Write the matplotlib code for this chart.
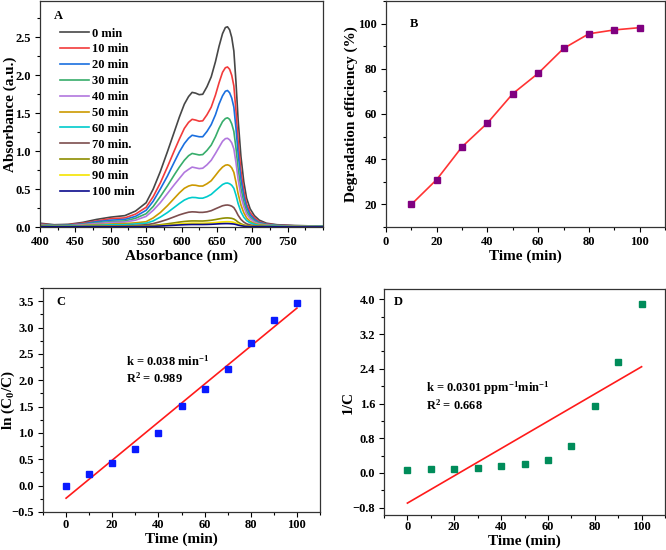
import matplotlib
matplotlib.use('Agg')
import matplotlib.pyplot as plt
from matplotlib.ticker import MultipleLocator
import numpy as np

plt.rcParams['font.family'] = 'serif'
plt.rcParams['font.serif'] = ['Liberation Serif', 'DejaVu Serif']
plt.rcParams['font.weight'] = 'bold'
plt.rcParams['axes.labelweight'] = 'bold'
plt.rcParams['mathtext.fontset'] = 'custom'
plt.rcParams['mathtext.rm'] = 'Liberation Serif:bold'
plt.rcParams['mathtext.default'] = 'rm'

# ---- panel A: UV-vis spectra ----
wl = [400, 420, 440, 460, 480, 500, 520, 535, 550, 560,
      570, 580, 590, 597, 604, 610, 615, 620, 625, 630,
      636, 642, 648, 653, 658, 662, 665, 668, 671, 674,
      677, 680, 684, 688, 692, 697, 703, 710, 720, 735,
      760, 800]
spec_labels = ['0 min', '10 min', '20 min', '30 min', '40 min', '50 min', '60 min', '70 min.',
               '80 min', '90 min', '100 min']
spec_colors = ['#474747', '#f23b3b', '#1a6fdf', '#37ad6b', '#b177de', '#cc9900', '#00cbcc',
               '#7d4e4e', '#8e8e00', '#f5e400', '#0a0a8c']
a0 = [0.05, 0.03, 0.035, 0.06, 0.10, 0.13, 0.15, 0.21, 0.32, 0.50,
      0.73, 0.99, 1.26, 1.45, 1.62, 1.72, 1.775, 1.765, 1.745, 1.75,
      1.85, 1.98, 2.18, 2.38, 2.55, 2.63, 2.64, 2.60, 2.50, 2.32,
      1.91, 1.42, 0.93, 0.60, 0.38, 0.24, 0.15, 0.09, 0.05, 0.03,
      0.02, 0.01]
a10 = [0.04, 0.025, 0.03, 0.05, 0.08, 0.11, 0.12, 0.17, 0.26, 0.40,
       0.58, 0.79, 1.01, 1.16, 1.30, 1.38, 1.42, 1.41, 1.395, 1.40,
       1.48, 1.58, 1.74, 1.90, 2.04, 2.10, 2.11, 2.08, 2.00, 1.86,
       1.53, 1.14, 0.74, 0.48, 0.30, 0.19, 0.12, 0.07, 0.04, 0.025,
       0.015, 0.01]
a20 = [0.035, 0.02, 0.025, 0.04, 0.07, 0.09, 0.10, 0.14, 0.22, 0.34,
       0.50, 0.67, 0.86, 0.99, 1.10, 1.17, 1.21, 1.20, 1.19, 1.19,
       1.26, 1.35, 1.48, 1.62, 1.73, 1.79, 1.80, 1.77, 1.70, 1.58,
       1.30, 0.97, 0.63, 0.41, 0.26, 0.16, 0.10, 0.06, 0.035, 0.02,
       0.015, 0.01]
a30 = [0.03, 0.02, 0.02, 0.035, 0.055, 0.07, 0.08, 0.115, 0.175, 0.27,
       0.40, 0.54, 0.69, 0.79, 0.88, 0.94, 0.97, 0.96, 0.95, 0.955,
       1.01, 1.08, 1.19, 1.30, 1.39, 1.43, 1.44, 1.42, 1.36, 1.26,
       1.04, 0.77, 0.51, 0.33, 0.21, 0.13, 0.08, 0.05, 0.03, 0.02,
       0.01, 0.01]
a40 = [0.025, 0.015, 0.015, 0.03, 0.045, 0.06, 0.065, 0.09, 0.14, 0.22,
       0.32, 0.44, 0.56, 0.64, 0.72, 0.76, 0.79, 0.78, 0.77, 0.775,
       0.82, 0.88, 0.97, 1.05, 1.13, 1.165, 1.17, 1.15, 1.11, 1.03,
       0.85, 0.63, 0.41, 0.27, 0.17, 0.11, 0.065, 0.04, 0.025, 0.015,
       0.01, 0.005]
a50 = [0.02, 0.01, 0.01, 0.02, 0.03, 0.04, 0.045, 0.055, 0.07, 0.12,
       0.19, 0.28, 0.38, 0.45, 0.51, 0.54, 0.553, 0.55, 0.54, 0.54,
       0.57, 0.61, 0.68, 0.74, 0.79, 0.815, 0.82, 0.81, 0.78, 0.72,
       0.59, 0.44, 0.29, 0.19, 0.12, 0.075, 0.045, 0.03, 0.02, 0.01,
       0.01, 0.005]
a60 = [0.015, 0.01, 0.01, 0.015, 0.02, 0.03, 0.03, 0.04, 0.05, 0.08,
       0.13, 0.19, 0.26, 0.31, 0.355, 0.38, 0.39, 0.388, 0.38, 0.38,
       0.40, 0.43, 0.48, 0.52, 0.56, 0.577, 0.58, 0.57, 0.55, 0.51,
       0.42, 0.31, 0.20, 0.13, 0.085, 0.055, 0.035, 0.02, 0.015, 0.01,
       0.005, 0.005]
a70 = [0.01, 0.005, 0.005, 0.008, 0.01, 0.015, 0.015, 0.02, 0.03, 0.045,
       0.07, 0.10, 0.135, 0.16, 0.18, 0.195, 0.20, 0.198, 0.193, 0.193,
       0.20, 0.215, 0.24, 0.26, 0.28, 0.288, 0.29, 0.285, 0.275, 0.255,
       0.21, 0.155, 0.10, 0.065, 0.042, 0.027, 0.017, 0.012, 0.008, 0.005,
       0.003, 0.003]
a80 = [0.006, 0.004, 0.004, 0.005, 0.006, 0.008, 0.009, 0.011, 0.015, 0.021,
       0.03, 0.042, 0.055, 0.065, 0.073, 0.078, 0.08, 0.08, 0.079, 0.079,
       0.083, 0.089, 0.098, 0.107, 0.115, 0.119, 0.12, 0.118, 0.114, 0.105,
       0.087, 0.064, 0.042, 0.027, 0.018, 0.012, 0.008, 0.006, 0.004, 0.003,
       0.002, 0.002]
a90 = [0.004, 0.003, 0.003, 0.004, 0.005, 0.006, 0.006, 0.007, 0.009, 0.013,
       0.019, 0.026, 0.034, 0.040, 0.045, 0.048, 0.05, 0.05, 0.049, 0.049,
       0.051, 0.054, 0.058, 0.063, 0.067, 0.069, 0.07, 0.069, 0.066, 0.061,
       0.051, 0.038, 0.025, 0.017, 0.011, 0.008, 0.005, 0.004, 0.003, 0.002,
       0.002, 0.002]
a100 = [0.003, 0.002, 0.002, 0.003, 0.004, 0.004, 0.005, 0.006, 0.007, 0.009,
        0.013, 0.018, 0.023, 0.027, 0.03, 0.032, 0.033, 0.033, 0.033, 0.033,
        0.034, 0.036, 0.039, 0.042, 0.044, 0.045, 0.045, 0.044, 0.042, 0.039,
        0.033, 0.025, 0.017, 0.011, 0.007, 0.005, 0.004, 0.003, 0.002, 0.002,
        0.001, 0.001]
spectra = [a0, a10, a20, a30, a40, a50, a60, a70, a80, a90, a100]

# ---- panel B: degradation efficiency ----
t_b = [10, 20, 30, 40, 50, 60, 70, 80, 90, 100]
eff = [20.0, 31.0, 45.5, 56.0, 69.0, 78.0, 89.0, 95.5, 97.2, 98.2]

# ---- panels C, D: kinetics ----
t_k = [0, 10, 20, 30, 40, 50, 60, 70, 80, 90, 100]
ln_c0c = [0.0, 0.23, 0.43, 0.69, 1.0, 1.51, 1.83, 2.22, 2.71, 3.14, 3.46]
inv_c = [0.07, 0.08, 0.09, 0.12, 0.15, 0.21, 0.30, 0.61, 1.55, 2.56, 3.90]

W, H = 666, 550
fig = plt.figure(figsize=(W / 100, H / 100), dpi=100)


def box(l, r, t, b):
    return fig.add_axes([l / W, 1 - b / H, (r - l) / W, (b - t) / H])


def style(ax, pad=3):
    ax.tick_params(which='both', direction='out', top=False, right=False, labelsize=9, pad=pad)
    ax.tick_params(which='major', length=3.5, width=0.8)
    ax.tick_params(which='minor', length=2, width=0.8)
    for s in ax.spines.values():
        s.set_linewidth(0.9)
        s.set_color('#333333')


axA = box(40, 323, 1, 227)
for y, c, lab in zip(spectra, spec_colors, spec_labels):
    axA.plot(wl, y, color=c, lw=1.2, label=lab)
axA.set_xlim(400, 800)
axA.set_ylim(0, 2.98)
axA.xaxis.set_minor_locator(MultipleLocator(25))
axA.yaxis.set_major_locator(MultipleLocator(0.5))
axA.yaxis.set_minor_locator(MultipleLocator(0.25))
axA.set_xticks([400, 450, 500, 550, 600, 650, 700, 750])
axA.set_xlabel('Absorbance (nm)', fontsize=11)
axA.set_ylabel('Absorbance (a.u.)', fontsize=11)
axA.xaxis.set_label_coords(0.5, -0.1)
axA.yaxis.set_label_coords(-0.083, 0.5)
axA.text(0.05, 0.934, 'A', transform=axA.transAxes, fontsize=9, fontweight='bold', va='center')
axA.legend(loc='upper left', bbox_to_anchor=(0.05, 0.91), frameon=False, fontsize=9,
           handlelength=2.3, handletextpad=0.25, labelspacing=0.31, borderpad=0)
style(axA)

axB = box(386, 665, 1, 227)
axB.plot(t_b, eff, color='#ff3333', lw=1.2, marker='s', ms=5, mfc='#800080', mec='#800080')
axB.set_xlim(0, 110)
axB.set_ylim(10, 110)
axB.xaxis.set_minor_locator(MultipleLocator(10))
axB.yaxis.set_minor_locator(MultipleLocator(10))
axB.set_xticks([0, 20, 40, 60, 80, 100])
axB.set_yticks([20, 40, 60, 80, 100])
axB.set_xlabel('Time (min)', fontsize=11)
axB.set_ylabel('Degradation efficiency (%)', fontsize=11)
axB.xaxis.set_label_coords(0.5, -0.1)
axB.yaxis.set_label_coords(-0.1, 0.5)
axB.text(0.087, 0.9, 'B', transform=axB.transAxes, fontsize=9, fontweight='bold', va='center')
style(axB)

axC = box(43, 320, 288, 512)
pc = np.polyfit(t_k, ln_c0c, 1)
axC.plot(t_k, np.polyval(pc, t_k), color='#ff1a1a', lw=1.2)
axC.plot(t_k, ln_c0c, ls='none', marker='s', ms=5, color='#0a1aff')
axC.set_xlim(-10, 110)
axC.set_ylim(-0.5, 3.75)
axC.xaxis.set_minor_locator(MultipleLocator(10))
axC.yaxis.set_major_locator(MultipleLocator(0.5))
axC.yaxis.set_minor_locator(MultipleLocator(0.25))
axC.set_xticks([0, 20, 40, 60, 80, 100])
axC.set_yticks([-0.5, 0.0, 0.5, 1.0, 1.5, 2.0, 2.5, 3.0, 3.5])
axC.set_xlabel('Time (min)', fontsize=11)
axC.set_ylabel('ln (C$_0$/C)', fontsize=11)
axC.xaxis.set_label_coords(0.5, -0.09)
axC.yaxis.set_label_coords(-0.094, 0.5)
axC.text(0.047, 0.9375, 'C', transform=axC.transAxes, fontsize=9, fontweight='bold', va='center')
axC.text(26, 2.35, 'k = 0.038 min$^{-1}$', fontsize=9, va='center')
axC.text(26, 2.04, 'R$^2$ = 0.989', fontsize=9, va='center')
style(axC)
axC.tick_params(axis='x', pad=1.5)

axD = box(384, 665, 289, 515)
pd_ = np.polyfit(t_k, inv_c, 1)
axD.plot(t_k, np.polyval(pd_, t_k), color='#ff1a1a', lw=1.2)
axD.plot(t_k, inv_c, ls='none', marker='s', ms=5, color='#008c5a')
axD.set_xlim(-10, 110)
axD.set_ylim(-0.97, 4.24)
axD.xaxis.set_minor_locator(MultipleLocator(10))
axD.yaxis.set_minor_locator(MultipleLocator(0.4))
axD.set_xticks([0, 20, 40, 60, 80, 100])
axD.set_yticks([-0.8, 0.0, 0.8, 1.6, 2.4, 3.2, 4.0])
axD.set_xlabel('Time (min)', fontsize=11)
axD.set_ylabel('1/C', fontsize=11)
axD.xaxis.set_label_coords(0.5, -0.085)
axD.yaxis.set_label_coords(-0.103, 0.5)
axD.text(0.035, 0.942, 'D', transform=axD.transAxes, fontsize=9, fontweight='bold', va='center')
axD.text(8, 1.95, 'k = 0.0301 ppm$^{-1}$min$^{-1}$', fontsize=9, va='center')
axD.text(8, 1.55, 'R$^2$ = 0.668', fontsize=9, va='center')
style(axD)
axD.tick_params(axis='x', pad=1)

fig.savefig('out.png', dpi=100)
